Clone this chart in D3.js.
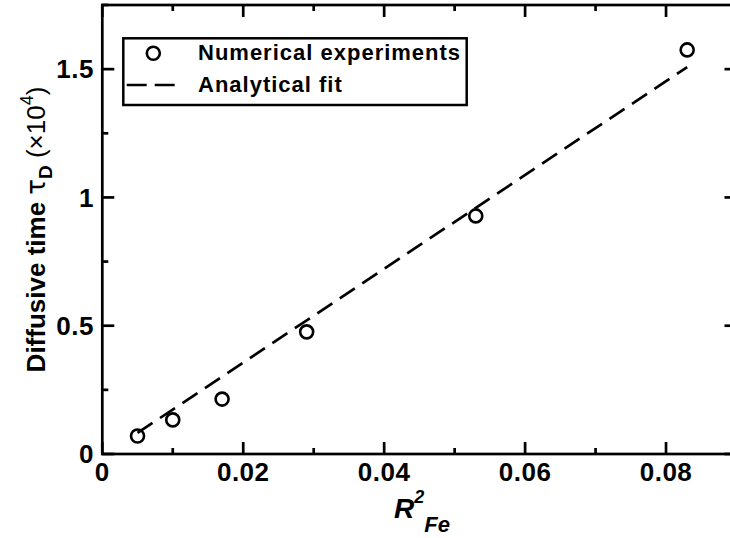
<!DOCTYPE html>
<html>
<head>
<meta charset="utf-8">
<script src="https://cdn.jsdelivr.net/npm/d3@7"></script>
<style>
  html, body { margin: 0; padding: 0; background: #fff; }
  svg { display: block; }
  text { font-family: "Liberation Sans", Arial, Helvetica, sans-serif; fill: #000; }
</style>
</head>
<body>
<svg id="chart" width="730" height="538"></svg>
<script>
// ---- data ----
const expX = [0.005, 0.010, 0.017, 0.029, 0.053, 0.083];
const expY = [0.07, 0.133, 0.214, 0.476, 0.928, 1.575];
const fitX = [0.005, 0.083];
const fitY = [0.082, 1.508];
const xMajorTicks = [0, 0.02, 0.04, 0.06, 0.08];
const xTickLabels = ["0", "0.02", "0.04", "0.06", "0.08"];
const xMinorTicks = [0.01, 0.03, 0.05, 0.07, 0.09];
const yMajorTicks = [0, 0.5, 1, 1.5];
const yTickLabels = ["0", "0.5", "1", "1.5"];
const yMinorTicks = [0.25, 0.75, 1.25, 1.75];
const legendLabels = ["Numerical experiments", "Analytical fit"];

// ---- layout ----
const svg = d3.select("#chart");
const x = d3.scaleLinear().domain([0, 0.09]).range([102.3, 736.5]);
const y = d3.scaleLinear().domain([0, 1.75]).range([454, 5]);
const AX_W = 2.7;
const MAJ = 12, MIN = 6;

// frame
svg.append("rect")
  .attr("x", x(0)).attr("y", y(1.75))
  .attr("width", x(0.09) - x(0)).attr("height", y(0) - y(1.75))
  .attr("fill", "none").attr("stroke", "#000").attr("stroke-width", AX_W);

// ticks (inward, all 4 sides)
const tg = svg.append("g").attr("stroke", "#000").attr("stroke-width", AX_W);
function xTicks(vals, len) {
  vals.forEach(v => {
    tg.append("line").attr("x1", x(v)).attr("x2", x(v)).attr("y1", y(0)).attr("y2", y(0) - len);
    tg.append("line").attr("x1", x(v)).attr("x2", x(v)).attr("y1", y(1.75)).attr("y2", y(1.75) + len);
  });
}
function yTicks(vals, len) {
  vals.forEach(v => {
    tg.append("line").attr("y1", y(v)).attr("y2", y(v)).attr("x1", x(0)).attr("x2", x(0) + len);
    tg.append("line").attr("y1", y(v)).attr("y2", y(v)).attr("x1", x(0.09)).attr("x2", x(0.09) - len);
  });
}
xTicks(xMajorTicks, MAJ); xTicks(xMinorTicks, MIN);
yTicks(yMajorTicks, MAJ); yTicks(yMinorTicks, MIN);

// tick labels
const TICK_FS = 26;
svg.append("g").selectAll("text").data(xMajorTicks).join("text")
  .attr("x", d => x(d)).attr("y", 481)
  .attr("text-anchor", "middle").attr("font-weight", "bold")
  .attr("font-size", TICK_FS).attr("letter-spacing", 0.5)
  .text((d, i) => xTickLabels[i]);
svg.append("g").selectAll("text").data(yMajorTicks).join("text")
  .attr("x", 94).attr("y", d => y(d) + 9.3)
  .attr("text-anchor", "end").attr("font-weight", "bold")
  .attr("font-size", TICK_FS).attr("letter-spacing", 0.5)
  .text((d, i) => yTickLabels[i]);

// fit line
svg.append("path")
  .datum(fitX.map((d, i) => [d, fitY[i]]))
  .attr("d", d3.line().x(d => x(d[0])).y(d => y(d[1])))
  .attr("fill", "none").attr("stroke", "#000").attr("stroke-width", 2.7)
  .attr("stroke-dasharray", "18,9");

// experiment points
svg.append("g").selectAll("circle").data(expX).join("circle")
  .attr("cx", d => x(d)).attr("cy", (d, i) => y(expY[i]))
  .attr("r", 6.5).attr("fill", "none").attr("stroke", "#000").attr("stroke-width", 2.6);

// legend
const lg = svg.append("g");
lg.append("rect").attr("x", 123.3).attr("y", 38.3).attr("width", 343.4).attr("height", 66.7)
  .attr("fill", "#fff").attr("stroke", "#000").attr("stroke-width", 2.5);
lg.append("circle").attr("cx", 153.3).attr("cy", 53.3).attr("r", 6.5)
  .attr("fill", "none").attr("stroke", "#000").attr("stroke-width", 2.6);
lg.append("line").attr("x1", 126.7).attr("x2", 178.3).attr("y1", 85).attr("y2", 85)
  .attr("stroke", "#000").attr("stroke-width", 2.7).attr("stroke-dasharray", "20,8");
lg.selectAll("text.lab").data(legendLabels).join("text").attr("class", "lab")
  .attr("x", 198).attr("y", (d, i) => i === 0 ? 60 : 92)
  .attr("font-weight", "bold").attr("font-size", 22).attr("letter-spacing", 1)
  .text(d => d);

// y axis label
const yl = svg.append("text")
  .attr("transform", "translate(45," + ((y(0) + y(1.75)) / 2) + ") rotate(-90)")
  .attr("text-anchor", "middle").attr("font-size", 26);
yl.append("tspan").attr("font-weight", "bold").text("Diffusive time ");
yl.append("tspan").attr("font-family", "DejaVu Sans").text("τ");
yl.append("tspan").attr("font-weight", "bold").attr("font-size", 19).attr("dy", 7).text("D");
yl.append("tspan").attr("dy", -7).text(" (×10");
yl.append("tspan").attr("font-size", 18).attr("dy", -12).text("4");
yl.append("tspan").attr("dy", 12).text(")");

// x axis label
const xl = svg.append("text")
  .attr("x", 394).attr("y", 518)
  .attr("font-weight", "bold").attr("font-style", "italic").attr("font-size", 28);
xl.append("tspan").text("R");
xl.append("tspan").attr("font-size", 18).attr("dy", -15).text("2");
xl.append("tspan").attr("font-size", 22).attr("dy", 29).text("Fe");
</script>
</body>
</html>
